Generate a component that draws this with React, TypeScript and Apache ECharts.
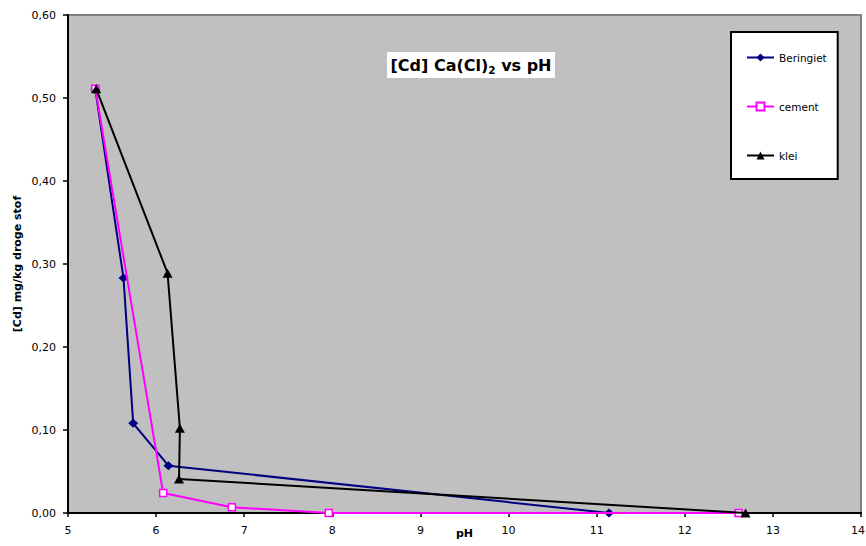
import React, { useEffect, useRef } from "react";
import * as echarts from "echarts";

// Cd leaching (CaCl2 extraction) against pH for three materials
const seriesNames = ["Beringiet", "cement", "klei"];

const beringietPH = [5.31, 5.63, 5.74, 6.14, 11.14];
const beringietCd = [0.51, 0.283, 0.108, 0.057, 0.0];

const cementPH = [5.31, 6.08, 6.86, 7.96, 12.61];
const cementCd = [0.511, 0.024, 0.007, 0.0, 0.0];

const kleiPH = [5.32, 6.13, 6.27, 6.26, 12.69];
const kleiCd = [0.511, 0.289, 0.102, 0.041, 0.0];

const xRange = [5, 14];
const yRange = [0, 0.6];

const FONT = '"DejaVu Sans", Verdana, sans-serif';

const zip = (xs: number[], ys: number[]) => xs.map((x, i) => [x, ys[i]]);

export default function App() {
  const ref = useRef<HTMLDivElement>(null);

  useEffect(() => {
    if (!ref.current) return;
    const chart = echarts.init(ref.current, null, { renderer: "svg" });

    const axisCommon = {
      type: "value" as const,
      nameLocation: "middle" as const,
      nameMoveOverlap: false,
      nameTextStyle: { fontFamily: FONT, fontSize: 11, fontWeight: "bold", color: "#000" },
      axisLine: { show: true, onZero: false, lineStyle: { color: "#000", width: 2 } },
      axisTick: { show: true, inside: false, lineStyle: { color: "#000", width: 1.5 } },
      splitLine: { show: false },
    };

    chart.setOption({
      animation: false,
      backgroundColor: "#ffffff",
      grid: {
        left: 68,
        right: 5,
        top: 15,
        bottom: 33,
        outerBoundsMode: "none",
        containLabel: false,
        show: true,
        backgroundColor: "#c0c0c0",
        borderColor: "#808080",
        borderWidth: 2,
      },
      xAxis: {
        ...axisCommon,
        min: xRange[0],
        max: xRange[1],
        interval: 1,
        name: "pH",
        nameGap: 15,
        axisTick: { ...axisCommon.axisTick, length: 4 },
        axisLabel: {
          margin: 12,
          fontFamily: FONT,
          fontSize: 11,
          color: "#000",
          // the last label sits against the right edge; nudge it inwards a little
          formatter: (v: number) => (v === xRange[1] ? `{m|${v}}` : `${v}`),
          rich: { m: { fontFamily: FONT, fontSize: 11, color: "#000", padding: [0, 6, 0, 0] } },
        },
      },
      yAxis: {
        ...axisCommon,
        min: yRange[0],
        max: yRange[1],
        interval: 0.1,
        name: "[Cd] mg/kg droge stof",
        nameGap: 45,
        axisTick: { ...axisCommon.axisTick, length: 5 },
        axisLabel: {
          margin: 12,
          fontFamily: FONT,
          fontSize: 11,
          color: "#000",
          formatter: (v: number) => v.toFixed(2).replace(".", ","),
        },
      },
      legend: {
        data: seriesNames,
        orient: "vertical",
        left: 731,
        top: 32,
        padding: [20, 11, 18, 15],
        itemGap: 38,
        itemWidth: 27,
        itemHeight: 10,
        backgroundColor: "#ffffff",
        borderColor: "#000000",
        borderWidth: 2,
        textStyle: { fontFamily: FONT, fontSize: 10.5, color: "#000" },
      },
      graphic: [
        {
          type: "group",
          silent: true,
          children: [
            {
              type: "rect",
              shape: { x: 387, y: 52, width: 168, height: 26 },
              style: { fill: "#ffffff" },
            },
            {
              type: "text",
              x: 471,
              y: 65,
              style: {
                text: "{b|[Cd] Ca(Cl)}{s|2}{b| vs pH}",
                align: "center",
                verticalAlign: "middle",
                rich: {
                  b: { fontFamily: FONT, fontSize: 16, fontWeight: "bold", fill: "#000", lineHeight: 20 },
                  s: {
                    fontFamily: FONT,
                    fontSize: 10.5,
                    fontWeight: "bold",
                    fill: "#000",
                    lineHeight: 12,
                    verticalAlign: "bottom",
                  },
                },
              },
            },
          ],
        },
      ],
      series: [
        {
          name: seriesNames[0],
          type: "line",
          data: zip(beringietPH, beringietCd),
          symbol: "diamond",
          symbolSize: [10, 9],
          lineStyle: { color: "#000080", width: 2 },
          itemStyle: { color: "#000080" },
          emphasis: { disabled: true },
          z: 2,
        },
        {
          name: seriesNames[1],
          type: "line",
          data: zip(cementPH, cementCd),
          symbol: "rect",
          symbolSize: 7,
          lineStyle: { color: "#ff00ff", width: 2 },
          itemStyle: { color: "#ffffff", borderColor: "#ff00ff", borderWidth: 1.5 },
          emphasis: { disabled: true },
          z: 3,
        },
        {
          name: seriesNames[2],
          type: "line",
          data: zip(kleiPH, kleiCd),
          symbol: "triangle",
          symbolSize: [10, 9],
          lineStyle: { color: "#000000", width: 2 },
          itemStyle: { color: "#000000" },
          emphasis: { disabled: true },
          z: 4,
        },
      ],
    });

    return () => chart.dispose();
  }, []);

  return (
    <div
      ref={ref}
      style={{ position: "absolute", left: 0, top: 0, width: 866, height: 546 }}
    />
  );
}
